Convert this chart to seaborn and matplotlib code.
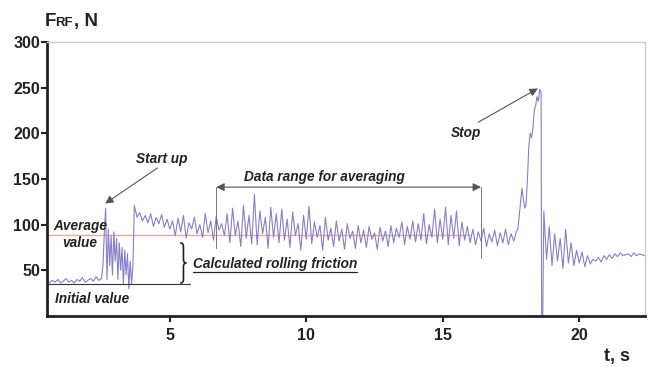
import numpy as np
import pandas as pd
import matplotlib
matplotlib.use("Agg")
import matplotlib.pyplot as plt
from matplotlib.path import Path
from matplotlib.patches import PathPatch
import seaborn as sns

# --- data (segments: start time, step, values) ---
initial_t0, initial_dt = 0.5, 0.1
initial_vals = [38, 36, 39, 37, 40, 36, 38, 41, 37, 39, 36, 40, 38, 42, 37, 39, 41, 38, 43, 39, 41]

startup_t0, startup_dt = 2.55, 0.05
startup_vals = [55, 90, 118, 40, 95, 55, 88, 45, 92, 60, 85, 40, 80, 50, 75, 35,
                72, 45, 68, 30, 60, 35, 55]

cruise_t0, cruise_dt = 3.7, 0.1
cruise_vals = [121, 108, 113, 104, 110, 102, 112, 98, 108, 101, 111, 97, 106, 95,
               104, 88, 107, 92, 110, 85, 102, 95, 108, 90,
               100, 86, 112, 91, 104, 83, 109, 94, 101, 88,
               112, 80, 118, 88, 104, 76, 121, 85, 110, 79,
               133, 78, 115, 90, 108, 74, 119, 86, 112, 80,
               117, 83, 106, 75, 114, 88, 101, 72, 110, 84,
               120, 79, 103, 86, 99, 72, 108, 83, 96, 76,
               104, 82, 95, 73, 101, 85, 93, 74, 99, 80,
               94, 75, 98, 84, 91, 73, 97, 82, 93, 76,
               99, 80, 96, 86, 103, 78, 98, 84, 104, 81,
               101, 83, 112, 79, 100, 86, 117, 80, 106, 84,
               119, 78, 110, 85, 115, 77, 103, 83, 98, 80,
               95, 78, 92, 82, 96, 76, 90, 81, 94, 77,
               91, 80, 95, 78, 90, 82, 93]

stop_t0, stop_dt = 17.75, 0.05
stop_vals = [95, 110, 125, 140, 128, 118, 122, 150, 185, 200, 195, 205, 225, 230,
             240, 235, 248, 245]

drop_t = [18.62, 18.66]
drop_vals = [-5, -5]

settle_t0, settle_dt = 18.7, 0.1
settle_vals = [115, 62, 98, 55, 90, 60, 85, 52, 95, 58, 80, 55,
               72, 58, 70, 54, 66, 57, 62,
               60, 64, 59, 66, 62, 67, 63, 68, 65, 69, 66, 67, 68, 65, 69, 66, 68, 67, 66]

average_value = 88.5
initial_value = 35
avg_range = (6.7, 16.4)


def seg(t0, dt, vals):
    return t0 + dt * np.arange(len(vals)), vals


parts = [seg(initial_t0, initial_dt, initial_vals),
         seg(startup_t0, startup_dt, startup_vals),
         seg(cruise_t0, cruise_dt, cruise_vals),
         seg(stop_t0, stop_dt, stop_vals),
         (np.array(drop_t), drop_vals),
         seg(settle_t0, settle_dt, settle_vals)]
df = pd.DataFrame({
    "t": np.concatenate([p[0] for p in parts]),
    "F": np.concatenate([np.asarray(p[1], dtype=float) for p in parts]),
})

sns.set_theme(style="white")
plt.rcParams["font.family"] = ["Liberation Sans", "DejaVu Sans"]

fig = plt.figure(figsize=(6.52, 3.67), dpi=100)
ax = fig.add_axes([0.072, 0.139, 0.917, 0.747])

sns.lineplot(data=df, x="t", y="F", ax=ax, color="#8680c8", linewidth=0.8,
             estimator=None, sort=False)

# reference lines
ax.plot([0.5, 16.0], [average_value] * 2, color="#eeaa98", linewidth=1.0, zorder=1)
ax.plot([0.5, 5.75], [initial_value] * 2, color="#333333", linewidth=0.8, zorder=3)

ax.set_xlim(0.5, 22.4)
ax.set_ylim(0, 300)
ax.set_xticks([5, 10, 15, 20])
ax.set_yticks([50, 100, 150, 200, 250, 300])
ax.set_xlabel("")
ax.set_ylabel("")
ax.tick_params(axis="both", direction="out", length=4, width=1.5, colors="#222222",
               labelsize=11.5, bottom=True, left=True)
ax.tick_params(axis="x", pad=5)
ax.tick_params(axis="y", pad=1)
for lab in ax.get_xticklabels() + ax.get_yticklabels():
    lab.set_fontweight("bold")
for s in ["left", "bottom"]:
    ax.spines[s].set_color("#222222")
    ax.spines[s].set_linewidth(2)
for s in ["top", "right"]:
    ax.spines[s].set_color("#cccccc")
    ax.spines[s].set_linewidth(1)

txt = dict(fontsize=9.8, fontweight="bold", fontstyle="italic", color="#222222")
arrow = dict(arrowstyle="-|>", color="#555555", lw=0.8, mutation_scale=12,
             shrinkA=0, shrinkB=0)

# Start up
ax.text(4.72, 172, "Start up", ha="center", va="center", **txt)
ax.annotate("", xy=(2.63, 123), xytext=(4.55, 162), arrowprops=arrow)

# Stop
ax.text(15.84, 200, "Stop", ha="center", va="center", **txt)
ax.annotate("", xy=(18.48, 249), xytext=(16.3, 212), arrowprops=arrow)

# Data range for averaging
ax.text(10.68, 152, "Data range for averaging", ha="center", va="center", **txt)
ax.annotate("", xy=(avg_range[0], 141), xytext=(avg_range[1], 141),
            arrowprops=dict(arrowstyle="<|-|>", color="#555555", lw=0.8,
                            mutation_scale=12, shrinkA=0, shrinkB=0))
ax.plot([avg_range[0]] * 2, [141, 74], color="#777777", linewidth=0.7)
ax.plot([avg_range[1]] * 2, [141, 63], color="#777777", linewidth=0.7)

# Average / initial value
ax.text(1.72, 98, "Average", ha="center", va="center", **txt)
ax.text(1.72, 80, "value", ha="center", va="center", **txt)
ax.text(2.15, 19, "Initial value", ha="center", va="center", **txt)

# brace
bx, ytop, ybot = 5.5, 80, 36
ymid = (ytop + ybot) / 2
w = 0.12
verts = [(bx - w, ytop), (bx, ytop), (bx, ytop - 4), (bx, ymid + 4),
         (bx, ymid + 1), (bx + w * 0.5, ymid), (bx + w, ymid),
         (bx + w * 0.5, ymid), (bx, ymid - 1), (bx, ymid - 4),
         (bx, ybot + 4), (bx, ybot), (bx - w, ybot)]
codes = [Path.MOVETO, Path.CURVE3, Path.CURVE3, Path.LINETO,
         Path.CURVE3, Path.CURVE3, Path.LINETO,
         Path.MOVETO, Path.CURVE3, Path.CURVE3,
         Path.LINETO, Path.CURVE3, Path.CURVE3]
ax.add_patch(PathPatch(Path(verts, codes), fill=False, edgecolor="#222222", lw=1.2))

calc = ax.text(5.85, 57, "Calculated rolling friction", ha="left", va="center", **txt)
fig.canvas.draw()
bb = calc.get_window_extent().transformed(ax.transData.inverted())
ax.plot([bb.x0, bb.x1], [bb.y0 - 1.0] * 2, color="#222222", linewidth=0.9)

# axis titles
fig.text(0.069, 0.929, "F", fontsize=13.5, fontweight="bold", color="#222222")
fig.text(0.085, 0.929, "RF", fontsize=9.5, fontweight="bold", color="#222222")
fig.text(0.113, 0.929, ", N", fontsize=13.5, fontweight="bold", color="#222222")
fig.text(0.926, 0.016, "t, s", fontsize=13, fontweight="bold", color="#222222")

fig.savefig("out.png", dpi=100)
